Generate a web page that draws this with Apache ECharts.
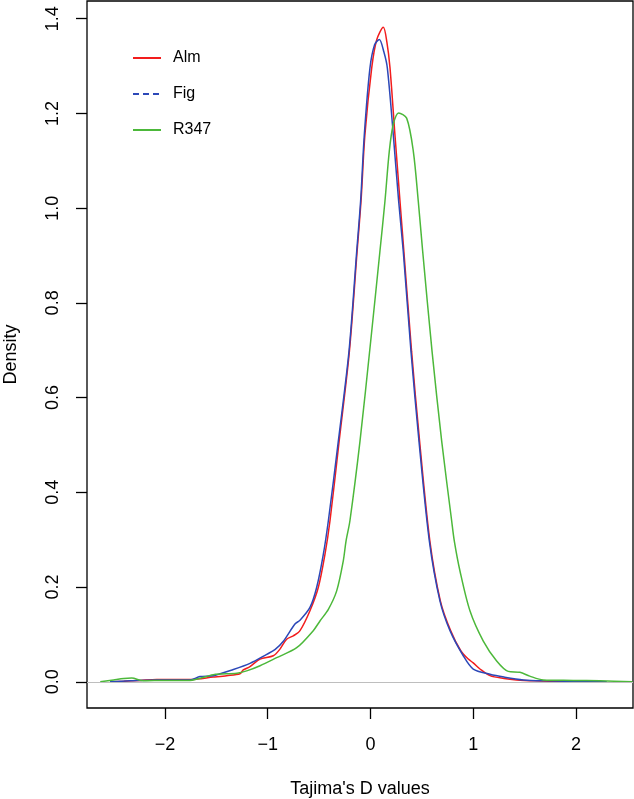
<!DOCTYPE html>
<html>
<head>
<meta charset="utf-8">
<script src="https://cdn.jsdelivr.net/npm/echarts@6/dist/echarts.min.js"></script>
<style>
  html, body { margin: 0; padding: 0; background: #fff; }
  #chart { width: 634px; height: 799px; }
</style>
</head>
<body>
<div id="chart"></div>
<script>
// Tajima's D density curves
const seriesNames = ['Alm', 'Fig', 'R347']
const xTicks = [-2, -1, 0, 1, 2]
const yTicks = [0, 0.2, 0.4, 0.6, 0.8, 1.0, 1.2, 1.4]

const almDensity = [
  [-2.50, 0.000], [-2.40, 0.001], [-2.24, 0.003], [-2.08, 0.005], [-1.90, 0.005],
  [-1.75, 0.005], [-1.53, 0.010], [-1.40, 0.013], [-1.27, 0.017], [-1.238, 0.025],
  [-1.173, 0.032], [-1.075, 0.048], [-0.946, 0.055], [-0.881, 0.069], [-0.816, 0.090],
  [-0.751, 0.097], [-0.686, 0.108], [-0.589, 0.150], [-0.508, 0.199], [-0.443, 0.269],
  [-0.394, 0.340], [-0.305, 0.508], [-0.205, 0.698], [-0.130, 0.909], [-0.092, 1.015],
  [-0.054, 1.155], [0.012, 1.296], [0.060, 1.355], [0.125, 1.382], [0.160, 1.350],
  [0.190, 1.296], [0.238, 1.155], [0.287, 1.015], [0.325, 0.909], [0.400, 0.698],
  [0.478, 0.508], [0.578, 0.297], [0.680, 0.171], [0.780, 0.108], [0.880, 0.065],
  [0.952, 0.048], [1.000, 0.040], [1.066, 0.027], [1.163, 0.013], [1.300, 0.007],
  [1.420, 0.004], [1.600, 0.002], [1.800, 0.001], [2.000, 0.000]
]

const figDensity = [
  [-2.535, 0.000], [-2.34, 0.002], [-2.08, 0.004], [-1.757, 0.004], [-1.659, 0.011],
  [-1.53, 0.013], [-1.335, 0.026], [-1.173, 0.039], [-1.010, 0.058], [-0.930, 0.068],
  [-0.850, 0.085], [-0.735, 0.122], [-0.686, 0.130], [-0.589, 0.157], [-0.524, 0.199],
  [-0.459, 0.269], [-0.410, 0.340], [-0.313, 0.508], [-0.209, 0.698], [-0.134, 0.909],
  [-0.096, 1.015], [-0.060, 1.155], [-0.005, 1.296], [0.040, 1.345], [0.086, 1.356],
  [0.130, 1.330], [0.164, 1.296], [0.222, 1.155], [0.274, 1.015], [0.319, 0.909],
  [0.394, 0.698], [0.472, 0.508], [0.573, 0.297], [0.676, 0.171], [0.774, 0.108],
  [0.903, 0.055], [1.000, 0.027], [1.163, 0.016], [1.300, 0.010], [1.487, 0.004],
  [1.700, 0.002], [2.000, 0.001], [2.300, 0.000]
]

const r347Density = [
  [-2.63, 0.000], [-2.50, 0.004], [-2.40, 0.007], [-2.324, 0.008], [-2.21, 0.002],
  [-2.00, 0.003], [-1.757, 0.003], [-1.53, 0.015], [-1.30, 0.018], [-1.205, 0.023],
  [-1.075, 0.034], [-0.913, 0.051], [-0.718, 0.072], [-0.557, 0.108], [-0.490, 0.129],
  [-0.410, 0.153], [-0.329, 0.192], [-0.265, 0.255], [-0.238, 0.297], [-0.200, 0.340],
  [-0.102, 0.508], [0.002, 0.719], [0.092, 0.909], [0.141, 1.015], [0.183, 1.120],
  [0.222, 1.177], [0.274, 1.201], [0.352, 1.190], [0.417, 1.120], [0.465, 1.015],
  [0.508, 0.909], [0.599, 0.698], [0.693, 0.508], [0.790, 0.340], [0.816, 0.297],
  [0.871, 0.234], [0.968, 0.150], [1.098, 0.086], [1.228, 0.044], [1.341, 0.022],
  [1.455, 0.020], [1.550, 0.012], [1.682, 0.004], [1.974, 0.003], [2.233, 0.002],
  [2.550, 0.000]
]

const colors = ['#f21d1d', '#2c48b8', '#4cb83a']
const font = '"Liberation Sans", Arial, Helvetica, sans-serif'

const chart = echarts.init(document.getElementById('chart'))

const lineSeries = (name, data, color) => ({
  name,
  type: 'line',
  data,
  smooth: 0.3,
  symbol: 'none',
  lineStyle: { color, width: 1.5 },
  itemStyle: { color },
  z: 3
})

const fmtTick = v => (v < 0 ? '\u2212' + Math.abs(v) : String(v))

chart.setOption({
  animation: false,
  grid: {
    left: 87, right: 1, top: 1, bottom: 91,
    containLabel: false,
    outerBoundsMode: 'none',
    show: true, borderColor: '#000', borderWidth: 1.3
  },
  legend: {
    orient: 'vertical',
    left: 127,
    top: 45,
    itemWidth: 28,
    itemHeight: 14,
    itemGap: 20,
    itemStyle: { opacity: 0 },
    textStyle: { fontFamily: font, fontSize: 16, color: '#000', padding: [0, 0, 0, 7] },
    data: [
      { name: seriesNames[0] },
      { name: seriesNames[1], lineStyle: { type: [6, 4] } },
      { name: seriesNames[2] }
    ]
  },
  xAxis: {
    type: 'value',
    min: -2.759,
    max: 2.555,
    name: "Tajima's D values",
    nameLocation: 'middle',
    nameGap: 72,
    nameTextStyle: { fontFamily: font, fontSize: 18, color: '#000' },
    splitLine: { show: false },
    axisLine: { show: false, onZero: false },
    axisTick: { show: true, length: 11, customValues: xTicks, lineStyle: { color: '#000', width: 1.3 } },
    axisLabel: {
      customValues: xTicks,
      formatter: fmtTick,
      margin: 28,
      fontFamily: font, fontSize: 18, color: '#000'
    }
  },
  yAxis: {
    type: 'value',
    min: -0.0553,
    max: 1.4373,
    name: 'Density',
    nameLocation: 'middle',
    nameGap: 67,
    nameTextStyle: { fontFamily: font, fontSize: 18, color: '#000' },
    splitLine: { show: false },
    axisLine: { show: false, onZero: false },
    axisTick: { show: true, length: 11, customValues: yTicks, lineStyle: { color: '#000', width: 1.3 } },
    axisLabel: {
      customValues: yTicks,
      formatter: v => v.toFixed(1),
      rotate: 90,
      margin: 25,
      fontFamily: font, fontSize: 18, color: '#000'
    }
  },
  series: [
    Object.assign(lineSeries(seriesNames[0], almDensity, colors[0]), {
      markLine: {
        silent: true,
        symbol: 'none',
        label: { show: false },
        lineStyle: { color: '#bebebe', width: 1, type: 'solid' },
        data: [{ yAxis: 0 }]
      }
    }),
    lineSeries(seriesNames[1], figDensity, colors[1]),
    lineSeries(seriesNames[2], r347Density, colors[2])
  ]
})
</script>
</body>
</html>
